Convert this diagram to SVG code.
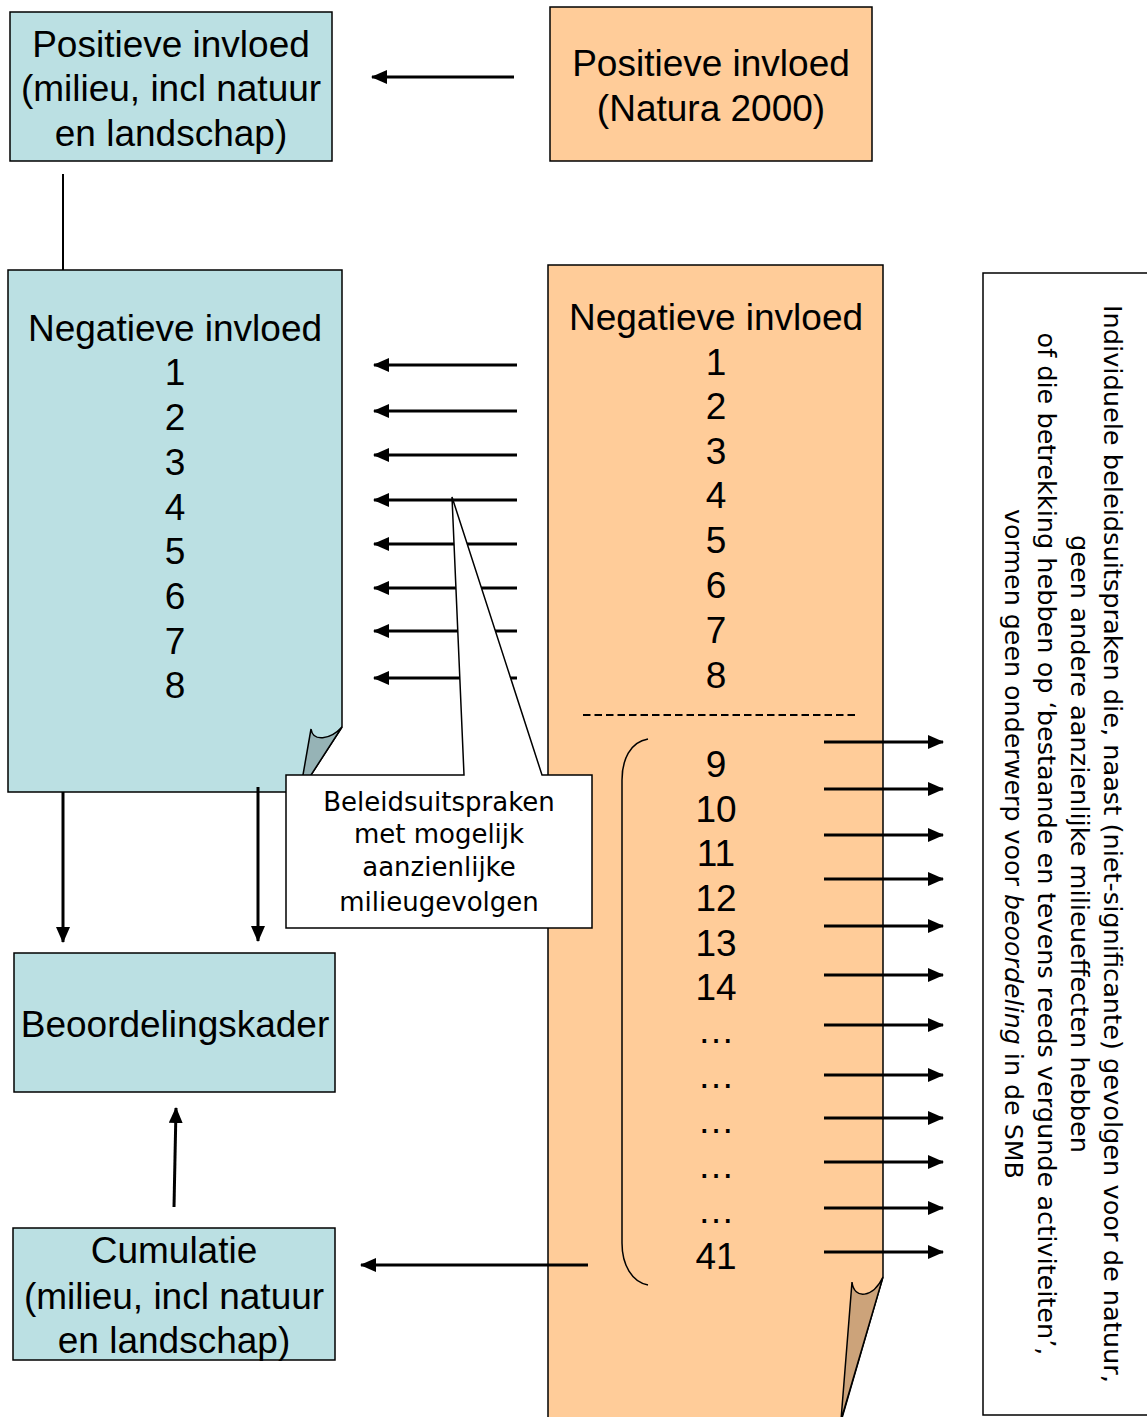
<svg xmlns="http://www.w3.org/2000/svg" width="1147" height="1417" viewBox="0 0 1147 1417">
  <defs>
    <marker id="ah" viewBox="0 0 16 14" markerWidth="16" markerHeight="14" refX="15" refY="7" orient="auto" markerUnits="userSpaceOnUse">
      <path d="M0,0 L16,7 L0,14 Z" fill="#000"/>
    </marker>
    <style>
      .box{stroke:#000;stroke-width:1.5}
      .blue{fill:#BBE0E3}
      .orange{fill:#FFCC99}
      .t{font-family:"Liberation Sans",Arial,sans-serif;font-size:37px;fill:#000;text-anchor:middle}
      .c{font-family:"DejaVu Sans","Noto Sans",sans-serif;font-size:25px;fill:#000;text-anchor:middle}
      .cb{font-size:26px}
      .ar{stroke:#000;stroke-width:3;fill:none;marker-end:url(#ah)}
      .ln{stroke:#000;stroke-width:2;fill:none}
    </style>
  </defs>
  <rect width="1147" height="1417" fill="#fff"/>

  <g id="pos-milieu">
    <rect class="box blue" x="10" y="12" width="322" height="149"/>
    <text class="t" x="171" y="57">Positieve invloed</text>
    <text class="t" x="171" y="101">(milieu, incl natuur</text>
    <text class="t" x="171" y="146">en landschap)</text>
  </g>

  <g id="pos-natura">
    <rect class="box orange" x="550" y="7" width="322" height="154"/>
    <text class="t" x="711" y="76">Positieve invloed</text>
    <text class="t" x="711" y="121">(Natura 2000)</text>
  </g>

  <g id="neg-natura">
    <path class="box orange" d="M548,265 H883 V1277 L840,1425 H548 Z"/>
    <path class="box" fill="#CCA37A" d="M852,1282 C854,1300 873,1298 883,1277 L841,1420 Z"/>
    <text class="t" x="716" y="330">Negatieve invloed</text>
    <text class="t" x="716" y="375">1</text>
    <text class="t" x="716" y="419">2</text>
    <text class="t" x="716" y="464">3</text>
    <text class="t" x="716" y="508">4</text>
    <text class="t" x="716" y="553">5</text>
    <text class="t" x="716" y="598">6</text>
    <text class="t" x="716" y="643">7</text>
    <text class="t" x="716" y="688">8</text>
    <line x1="583" y1="715" x2="858" y2="715" stroke="#000" stroke-width="2" stroke-dasharray="7.5 4"/>
    <path d="M648,739 C630,742 622,760 622,780 V1243 C622,1265 632,1282 648,1285" fill="none" stroke="#000" stroke-width="1.5"/>
    <text class="t" x="716" y="777">9</text>
    <text class="t" x="716" y="822">10</text>
    <text class="t" x="716" y="866">11</text>
    <text class="t" x="716" y="911">12</text>
    <text class="t" x="716" y="956">13</text>
    <text class="t" x="716" y="1000">14</text>
    <text class="t" x="716" y="1043">…</text>
    <text class="t" x="716" y="1088">…</text>
    <text class="t" x="716" y="1133">…</text>
    <text class="t" x="716" y="1178">…</text>
    <text class="t" x="716" y="1223">…</text>
    <text class="t" x="716" y="1269">41</text>
  </g>

  <g id="neg-milieu">
    <path class="box blue" d="M8,270 H342 V727 L300,792 H8 Z"/>
    <path class="box" fill="#96B3B6" d="M311,729 C313,742 330,740 342,727 L300,792 Z"/>
    <text class="t" x="175" y="341">Negatieve invloed</text>
    <text class="t" x="175" y="385">1</text>
    <text class="t" x="175" y="430">2</text>
    <text class="t" x="175" y="475">3</text>
    <text class="t" x="175" y="520">4</text>
    <text class="t" x="175" y="564">5</text>
    <text class="t" x="175" y="609">6</text>
    <text class="t" x="175" y="654">7</text>
    <text class="t" x="175" y="698">8</text>
  </g>

  <g id="beoordelingskader">
    <rect class="box blue" x="14" y="953" width="321" height="139"/>
    <text class="t" x="175" y="1037">Beoordelingskader</text>
  </g>

  <g id="cumulatie">
    <rect class="box blue" x="13" y="1228" width="322" height="132"/>
    <text class="t" x="174" y="1263">Cumulatie</text>
    <text class="t" x="174" y="1309">(milieu, incl natuur</text>
    <text class="t" x="174" y="1353">en landschap)</text>
  </g>

  <g id="note">
    <rect class="box" fill="#fff" x="983" y="273" width="170" height="1142"/>
    <g transform="translate(0,844) rotate(90)">
      <text class="c" x="0" y="-1104" textLength="1078" lengthAdjust="spacingAndGlyphs">Individuele beleidsuitspraken die, naast (niet-significante) gevolgen voor de natuur,</text>
      <text class="c" x="0" y="-1071" textLength="618" lengthAdjust="spacingAndGlyphs">geen andere aanzienlijke milieueffecten hebben</text>
      <text class="c" x="0" y="-1038" textLength="1023" lengthAdjust="spacingAndGlyphs">of die betrekking hebben op ‘bestaande en tevens reeds vergunde activiteiten’,</text>
      <text class="c" x="0" y="-1005" textLength="670" lengthAdjust="spacingAndGlyphs">vormen geen onderwerp voor <tspan font-style="italic">beoordeling</tspan> in de SMB</text>
    </g>
  </g>

  <g id="connectors">
    <line class="ar" x1="514" y1="77" x2="372" y2="77"/>
    <line class="ln" x1="63" y1="174" x2="63" y2="270"/>
    <line class="ar" x1="517" y1="365" x2="374" y2="365"/>
    <line class="ar" x1="517" y1="411" x2="374" y2="411"/>
    <line class="ar" x1="517" y1="455" x2="374" y2="455"/>
    <line class="ar" x1="517" y1="500" x2="374" y2="500"/>
    <line class="ar" x1="517" y1="544" x2="374" y2="544"/>
    <line class="ar" x1="517" y1="588" x2="374" y2="588"/>
    <line class="ar" x1="517" y1="631" x2="374" y2="631"/>
    <line class="ar" x1="517" y1="678" x2="374" y2="678"/>
    <line class="ar" x1="63" y1="792" x2="63" y2="942"/>
    <line class="ar" x1="258" y1="787" x2="258" y2="941"/>
    <line class="ar" x1="174" y1="1207" x2="176" y2="1108"/>
    <line class="ar" x1="588" y1="1265" x2="361" y2="1265"/>
    <line class="ar" x1="824" y1="742" x2="943" y2="742"/>
    <line class="ar" x1="824" y1="789" x2="943" y2="789"/>
    <line class="ar" x1="824" y1="835" x2="943" y2="835"/>
    <line class="ar" x1="824" y1="879" x2="943" y2="879"/>
    <line class="ar" x1="824" y1="926" x2="943" y2="926"/>
    <line class="ar" x1="824" y1="975" x2="943" y2="975"/>
    <line class="ar" x1="824" y1="1025" x2="943" y2="1025"/>
    <line class="ar" x1="824" y1="1075" x2="943" y2="1075"/>
    <line class="ar" x1="824" y1="1118" x2="943" y2="1118"/>
    <line class="ar" x1="824" y1="1162" x2="943" y2="1162"/>
    <line class="ar" x1="824" y1="1208" x2="943" y2="1208"/>
    <line class="ar" x1="824" y1="1252" x2="943" y2="1252"/>
  </g>

  <g id="callout">
    <path d="M286,775 H464 L452,497 L542,775 H592 V928 H286 Z" fill="#fff" stroke="#000" stroke-width="1.5"/>
    <text class="c cb" x="439" y="811">Beleidsuitspraken</text>
    <text class="c cb" x="439" y="843">met mogelijk</text>
    <text class="c cb" x="439" y="876">aanzienlijke</text>
    <text class="c cb" x="439" y="911">milieugevolgen</text>
  </g>
</svg>
